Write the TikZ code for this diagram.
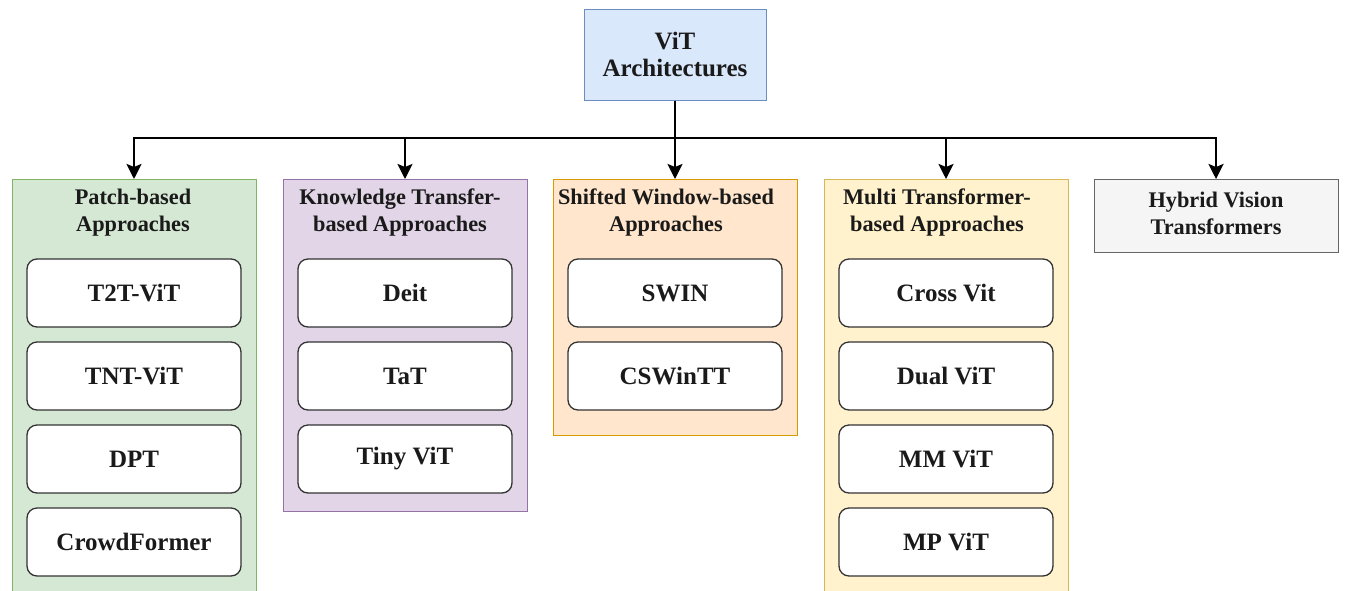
\documentclass[tikz,border=0pt]{standalone}
\usepackage{fontspec}
\setmainfont{Liberation Serif}
\usetikzlibrary{arrows.meta}
\definecolor{bluefill}{HTML}{DAE8FC}\definecolor{bluedraw}{HTML}{6C8EBF}
\definecolor{greenfill}{HTML}{D5E8D4}\definecolor{greendraw}{HTML}{82B366}
\definecolor{purplefill}{HTML}{E1D5E7}\definecolor{purpledraw}{HTML}{9673A6}
\definecolor{orangefill}{HTML}{FFE6CC}\definecolor{orangedraw}{HTML}{D79B00}
\definecolor{yellowfill}{HTML}{FFF2CC}\definecolor{yellowdraw}{HTML}{D6B656}
\definecolor{greyfill}{HTML}{F5F5F5}\definecolor{greydraw}{HTML}{666666}
\definecolor{txt}{HTML}{1A1A1A}
\tikzset{
  lbl/.style={font=\fontsize{25}{27}\selectfont\bfseries, text=txt, align=center},
  hlbl/.style={font=\fontsize{22.3}{27}\selectfont\bfseries, text=txt, align=center},
  cont/.style={draw, line width=1pt, minimum width=244pt, anchor=north, inner sep=0pt},
  item/.style={lbl, draw=black!80, line width=1.3pt, fill=white, rounded corners=10pt,
    minimum width=214pt, minimum height=68pt, inner sep=0pt},
  hdr/.style={hlbl, inner sep=0pt},
  conn/.style={line width=2.5pt, black},
  arr/.style={conn, -{Stealth[length=15pt,width=15pt,inset=3pt]}}
}
\begin{document}
\begin{tikzpicture}[x=1pt,y=-1pt]
\clip (0,0) rectangle (1347,590);
\fill[white] (0,0) rectangle (1347,590);
% root
\node[lbl, draw=bluedraw, fill=bluefill, line width=1pt, minimum width=182pt, minimum height=91pt, inner sep=0pt] (root) at (675,54.5) {ViT\\Architectures};
% containers
\node[cont, draw=greendraw, fill=greenfill, minimum height=430pt] (green) at (134,179) {};
\node[cont, draw=purpledraw, fill=purplefill, minimum height=332pt] (purple) at (405,179) {};
\node[cont, draw=orangedraw, fill=orangefill, minimum height=256pt] (orange) at (675,179) {};
\node[cont, draw=yellowdraw, fill=yellowfill, minimum height=430pt] (yellow) at (946,179) {};
\node[cont, draw=greydraw, fill=greyfill, minimum height=73pt] (grey) at (1216,179) {};
% headers
\node[hdr] (hg) at (133,213) {Patch-based\\Approaches};
\node[hdr] (hp) at (400,213) {Knowledge Transfer-\\based Approaches};
\node[hdr] (ho) at (666,213) {Shifted Window-based\\Approaches};
\node[hdr] (hy) at (937,213) {Multi Transformer-\\based Approaches};
\node[hdr] (hh) at (1216,213) {Hybrid Vision\\Transformers};
% items
\node[item] (g1) at (134,293) {T2T-ViT};
\node[item] (g2) at (134,376) {TNT-ViT};
\node[item] (g3) at (134,459) {DPT};
\node[item] (g4) at (134,542) {CrowdFormer};
\node[item] (p1) at (405,293) {Deit};
\node[item] (p2) at (405,376) {TaT};
\node[item] (p3) at (405,459) {Tiny ViT};
\node[item] (o1) at (675,293) {SWIN};
\node[item] (o2) at (675,376) {CSWinTT};
\node[item] (y1) at (946,293) {Cross Vit};
\node[item] (y2) at (946,376) {Dual ViT};
\node[item] (y3) at (946,459) {MM ViT};
\node[item] (y4) at (946,542) {MP ViT};
% connectors
\coordinate (j) at (675,138);
\draw[conn] (root.south) -- (j);
\draw[arr] (j) -| (green.north);
\draw[arr] (j) -| (purple.north);
\draw[arr] (root.south) -- (orange.north);
\draw[arr] (j) -| (yellow.north);
\draw[arr] (j) -| (grey.north);
\end{tikzpicture}
\end{document}
